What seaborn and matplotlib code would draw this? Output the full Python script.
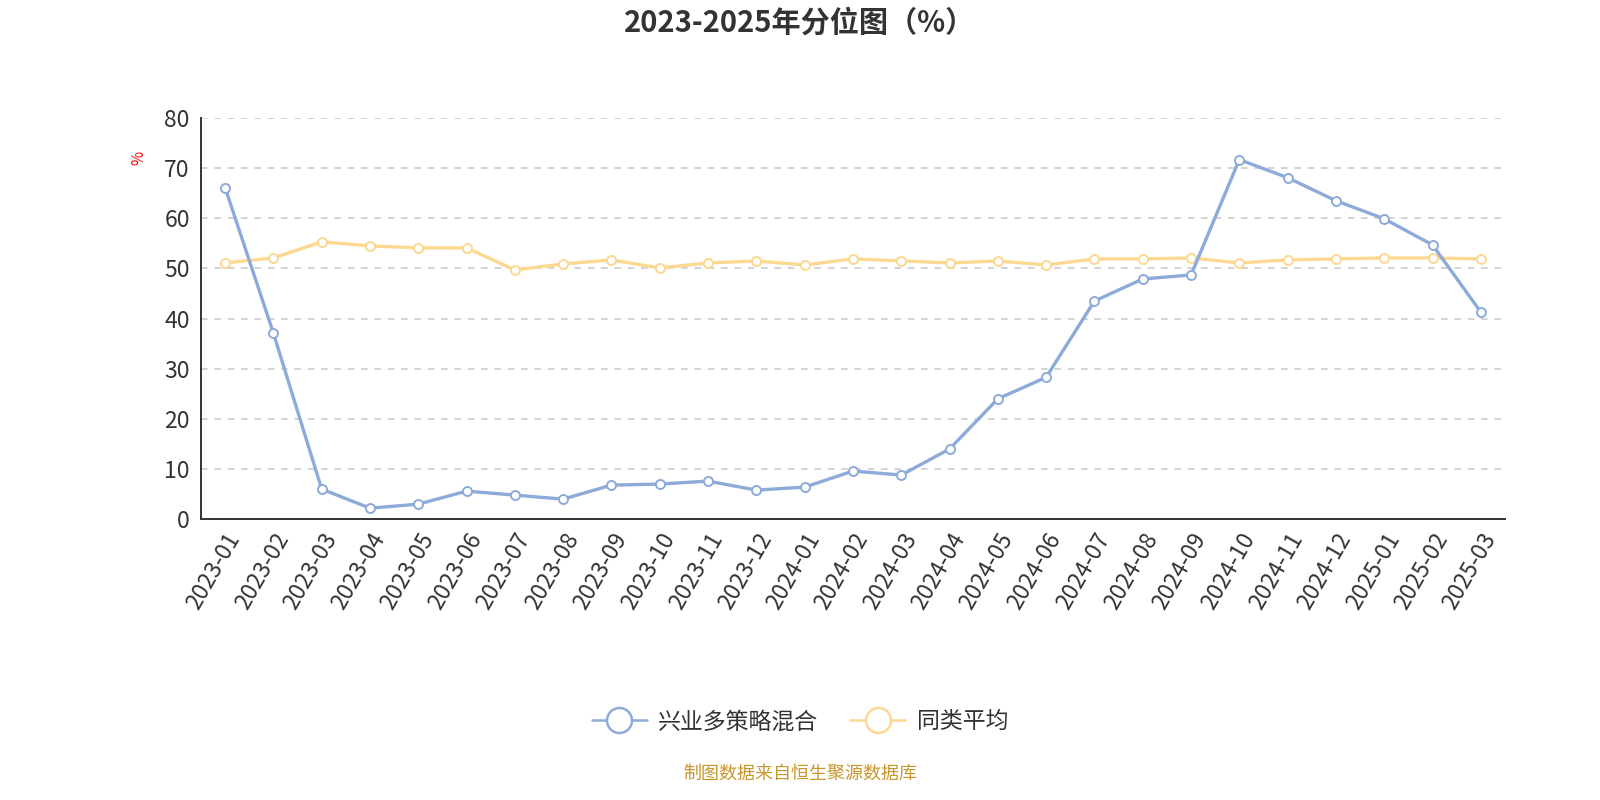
import numpy as np
import pandas as pd
import matplotlib
matplotlib.use('Agg')
import matplotlib.pyplot as plt
import seaborn as sns
from matplotlib.lines import Line2D

# datos
meses = ['2023-01', '2023-02', '2023-03', '2023-04', '2023-05', '2023-06',
         '2023-07', '2023-08', '2023-09', '2023-10', '2023-11', '2023-12',
         '2024-01', '2024-02', '2024-03', '2024-04', '2024-05', '2024-06',
         '2024-07', '2024-08', '2024-09', '2024-10', '2024-11', '2024-12',
         '2025-01', '2025-02', '2025-03']

fondo = [66.1, 37.1, 6.0, 2.2, 3.0, 5.6, 4.8, 4.0, 6.8, 7.0, 7.6, 5.8,
         6.4, 9.6, 8.8, 14.0, 24.0, 28.3, 43.5, 47.9, 48.7, 71.7, 68.1, 63.5,
         59.9, 54.7, 41.3]

promedio = [51.1, 52.1, 55.3, 54.5, 54.1, 54.1, 49.7, 50.9, 51.7, 50.1, 51.1, 51.5,
            50.7, 51.9, 51.5, 51.1, 51.5, 50.7, 51.9, 51.9, 52.1, 51.1, 51.7, 51.9,
            52.1, 52.1, 51.9]

nombres = ['兴业多策略混合', '同类平均']
colores = ['#8dabd9', '#fdd891']

df = pd.DataFrame({'mes': meses * 2,
                   'valor': fondo + promedio,
                   'serie': [nombres[0]] * len(meses) + [nombres[1]] * len(meses)})

sns.set_style('white')
plt.rcParams['font.family'] = ['Noto Sans CJK SC', 'DejaVu Sans']

fig = plt.figure(figsize=(16, 8), dpi=100)
ax = fig.add_axes([0.1256, 0.351, 0.815, 0.5015])

# la serie promedio abajo, el fondo arriba
for nombre, color, z in [(nombres[1], colores[1], 2), (nombres[0], colores[0], 3)]:
    sub = df[df['serie'] == nombre]
    sns.lineplot(data=sub, x='mes', y='valor', ax=ax, color=color, linewidth=2.4,
                 marker='o', markersize=6.5, markerfacecolor='white',
                 markeredgecolor=color, markeredgewidth=1.4, zorder=z,
                 sort=False, legend=False)

ax.set_xlim(-0.5, len(meses) - 0.5)
ax.set_ylim(0, 80)
ax.set_yticks(range(0, 81, 10))
ax.set_xticks(np.arange(-0.5, len(meses), 1), minor=True)
ax.set_xticks(range(len(meses)))
ax.set_xticklabels(meses, rotation=60, ha='right', rotation_mode='anchor',
                   fontsize=16.5, color='#333333')
ax.tick_params(axis='x', which='major', length=0, pad=7)
ax.tick_params(axis='x', which='minor', length=6, width=1.2, color='#333333', direction='out')
ax.tick_params(axis='y', length=5, width=1.2, color='#333333', labelsize=16.5,
               labelcolor='#333333', pad=3)

ax.grid(axis='y', linestyle=(0, (4, 4)), color='#cccccc', linewidth=1.2)
ax.set_axisbelow(True)
for lado in ['top', 'right']:
    ax.spines[lado].set_visible(False)
for lado in ['left', 'bottom']:
    ax.spines[lado].set_color('#333333')
    ax.spines[lado].set_linewidth(1.4)

ax.set_xlabel('')
ax.set_ylabel('')
fig.text(0.087, 0.802, '%', color='red', fontsize=11, rotation=90, ha='center', va='center')

fig.suptitle('2023-2025年分位图（%）', fontsize=21, fontweight='bold', color='#333333', y=0.99)

handles = [Line2D([0], [0], color=c, linewidth=1.8, marker='o', markersize=18,
                  markerfacecolor='white', markeredgecolor=c, markeredgewidth=1.8)
           for c in colores]
fig.legend(handles, nombres, loc='center', bbox_to_anchor=(0.5, 0.098), ncol=2,
           frameon=False, fontsize=16.5, handlelength=2.4, columnspacing=1.4,
           handletextpad=0.5, labelcolor='#333333')

fig.text(0.5, 0.033, '制图数据来自恒生聚源数据库', color='#c8962b', fontsize=13,
         ha='center', va='center')

fig.savefig('out.png', dpi=100)
